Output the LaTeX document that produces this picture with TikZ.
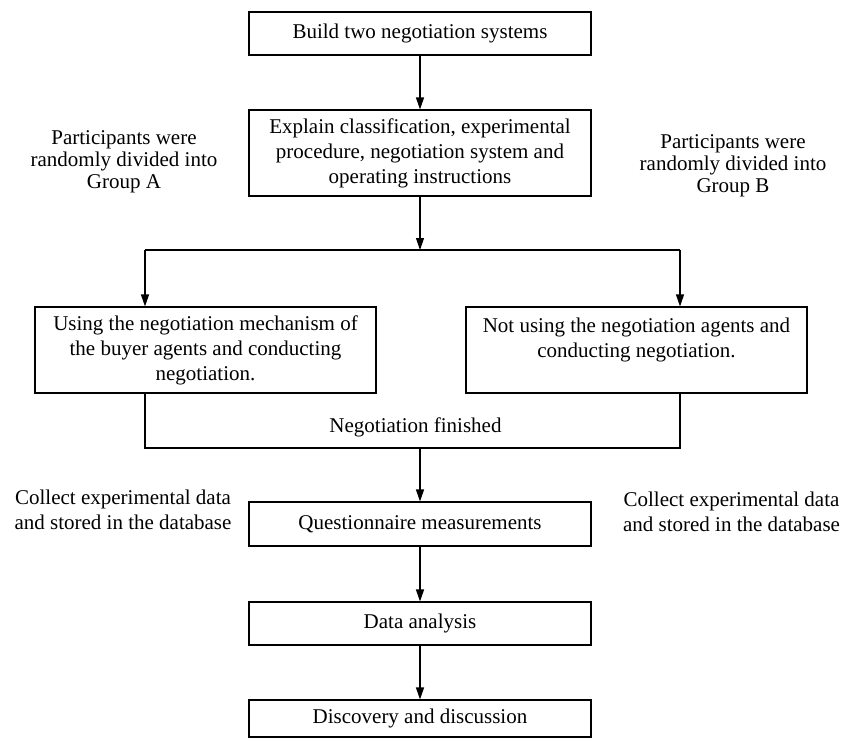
\documentclass[tikz,border=0pt]{standalone}
\usepackage{fontspec}
\setmainfont{Liberation Serif}
\usetikzlibrary{arrows.meta}
\begin{document}
\begin{tikzpicture}[x=1pt,y=-1pt,
  every node/.style={font=\fontsize{21}{25}\selectfont, inner sep=0pt, align=center},
  box/.style={draw=black, line width=1.1pt, minimum width=342pt},
  sbox/.style={draw=black, line width=1.1pt, minimum width=341pt, minimum height=86pt},
  ln/.style={draw=black, line width=1.1pt},
  arr/.style={ln, -{Triangle[length=12pt,width=8pt]}},
  side/.style={font=\fontsize{21}{22}\selectfont}]
\useasboundingbox (0,0) rectangle (842,740);
\node[box, minimum height=43pt] (b1) at (420,33.5) {Build two negotiation systems};
\node[box, minimum height=86pt] (b2) at (420,153) {Explain classification, experimental\\procedure, negotiation system and\\operating instructions};
\node[sbox] (lb) at (205.5,350) {Using the negotiation mechanism of\\the buyer agents and conducting\\negotiation.};
\node[sbox] (rb) at (636.5,350) {Not using the negotiation agents and\\conducting negotiation.\\\mbox{}};
\node[box, minimum height=44pt] (q) at (420,524) {Questionnaire measurements};
\node[box, minimum height=43pt] (da) at (420,623.5) {Data analysis};
\node[box, minimum height=37pt] (dd) at (420,718.5) {Discovery and discussion};
\node[side] (ga) at (124,162) {Participants were\\randomly divided into\\Group A};
\node[side] (gb) at (733,166) {Participants were\\randomly divided into\\Group B};
\node (ca) at (123,510) {Collect experimental data\\and stored in the database};
\node (cb) at (731.5,512) {Collect experimental data\\and stored in the database};
\node (nf) at (415.5,427) {Negotiation finished};
\coordinate (bm) at (420,250);
\coordinate (bl) at (145,250);
\coordinate (brr) at (680,250);
\coordinate (jl) at (145,448);
\coordinate (jr) at (680,448);
\coordinate (jm) at (420,448);
\draw[arr] (b1) -- (b2);
\draw[arr] (b2) -- (bm);
\draw[ln] (bl) -- (brr);
\draw[arr] (bl) -- (bl |- lb.north);
\draw[arr] (brr) -- (brr |- rb.north);
\draw[ln] (jl |- lb.south) -- (jl) -- (jr) -- (jr |- rb.south);
\draw[arr] (jm) -- (q);
\draw[arr] (q) -- (da);
\draw[arr] (da) -- (dd);
\end{tikzpicture}
\end{document}
